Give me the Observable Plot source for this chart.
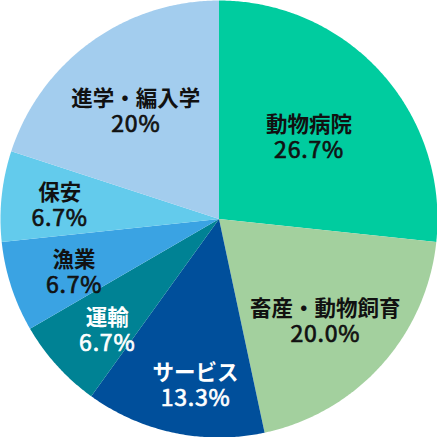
<!DOCTYPE html>
<html><head><meta charset="utf-8">
<script src="https://cdn.jsdelivr.net/npm/d3@7"></script>
<script src="https://cdn.jsdelivr.net/npm/@observablehq/plot@0.6"></script>
<style>html,body{margin:0;padding:0;background:#fff}#chart svg{display:block}</style>
</head><body><div id="chart"></div>
<script>
const categories = ["動物病院","畜産・動物飼育","サービス","運輸","漁業","保安","進学・編入学"];
const values = [26.7, 20.0, 13.3, 6.7, 6.7, 6.7, 20];
const valueLabels = ["26.7%","20.0%","13.3%","6.7%","6.7%","6.7%","20%"];
const sliceColors = ["#00cc9f","#a3d09e","#004f9b","#008294","#3aa3e3","#63cbec","#a3cdee"];
const whiteText = ["サービス","運輸"];

// label placement (radius as fraction of pie radius, angle tweak in degrees)
const labelR = [0.558, 0.673, 0.764, 0.719, 0.705, 0.732, 0.627];
const labelDA = [-0.4, 1.7, -3.8, -2.5, -1.7, -0.9, -1.4];

const arcs = d3.pie().sort(null).value(d => d)(values);
const pts = [];
arcs.forEach((a, i) => {
  const cat = categories[i];
  pts.push({cat, x: 0, y: 0});
  const n = Math.max(8, Math.ceil((a.endAngle - a.startAngle) / (Math.PI / 360)));
  for (let k = 0; k <= n; k++) {
    const t = a.startAngle + (a.endAngle - a.startAngle) * k / n;
    pts.push({cat, x: Math.sin(t), y: Math.cos(t)});
  }
});
const labels = arcs.map((a, i) => {
  const m = (a.startAngle + a.endAngle) / 2 + labelDA[i] * Math.PI / 180;
  return {label: categories[i] + "\n" + valueLabels[i], x: labelR[i] * Math.sin(m), y: labelR[i] * Math.cos(m), white: whiteText.includes(categories[i])};
});
const font = "'Noto Sans CJK JP', 'Noto Sans', sans-serif";
const textMarks = [];
for (const white of [false, true]) {
  const d = labels.filter(l => l.white === white);
  const c = white ? "#ffffff" : "#111111";
  textMarks.push(Plot.text(d, {x: "x", y: "y", text: "label", fill: c, fontSize: 21.5, fontWeight: "bold", lineHeight: 1.13, dy: 0, fontFamily: font}));
}
const chart = Plot.plot({
  width: 437, height: 437, margin: 0,
  x: {domain: [-1, 1], axis: null},
  y: {domain: [-1, 1], axis: null},
  color: {domain: categories, range: sliceColors},
  marks: [
    Plot.line(pts, {x: "x", y: "y", z: "cat", fill: "cat", stroke: "none", curve: "linear-closed"}),
    ...textMarks
  ]
});
// second line (percentage) is set in a lighter, slightly larger face
chart.querySelectorAll("text").forEach(t => {
  const spans = t.querySelectorAll("tspan");
  if (spans.length === 2) {
    const s = spans[1];
    const fill = t.getAttribute("fill") || (t.parentNode && t.parentNode.getAttribute("fill"));
    s.setAttribute("font-weight", "normal");
    s.setAttribute("font-size", "23");
    s.setAttribute("letter-spacing", "0.8");
    s.setAttribute("stroke", fill || "#111111");
    s.setAttribute("stroke-width", "0.7");
  }
});
document.getElementById("chart").appendChild(chart);
</script></body></html>
